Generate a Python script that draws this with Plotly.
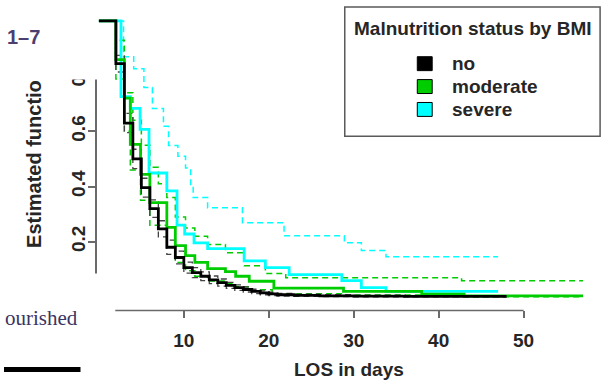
import plotly.graph_objects as go

# ---------------- data ----------------
no_t = [0, 2, 3, 4, 5, 6, 7, 8, 9, 10, 11, 12, 13, 14, 15, 16, 17, 18, 19, 20, 21, 23, 26, 30, 36, 48]
no_s = [1.0, 0.845, 0.63, 0.50, 0.396, 0.32, 0.247, 0.18, 0.143, 0.106, 0.088, 0.075, 0.062, 0.052,
        0.042, 0.034, 0.027, 0.02, 0.015, 0.011, 0.008, 0.006, 0.004, 0.003, 0.002, 0.002]
no_hi = [1.0, 0.875, 0.665, 0.535, 0.43, 0.352, 0.276, 0.206, 0.166, 0.126, 0.106, 0.091, 0.076, 0.065,
         0.053, 0.044, 0.036, 0.028, 0.022, 0.017, 0.013, 0.01, 0.008, 0.006, 0.005, 0.005]
no_lo = [1.0, 0.815, 0.595, 0.465, 0.362, 0.288, 0.218, 0.154, 0.12, 0.086, 0.07, 0.059, 0.048, 0.039,
         0.031, 0.024, 0.018, 0.012, 0.008, 0.005, 0.003, 0.002, 0.001, 0.0, 0.0, 0.0]

mod_t = [0, 2, 3, 3.7, 4.9, 6, 8, 9, 10.2, 11.3, 12.8, 14.9, 16.1, 17.7, 20.6, 28.8, 38, 43, 57]
mod_s = [1.0, 0.86, 0.72, 0.553, 0.444, 0.342, 0.252, 0.186, 0.15, 0.125, 0.103, 0.092, 0.075, 0.057,
         0.032, 0.02, 0.01, 0.004, 0.004]
mod_hi_t = [0, 2, 3, 4, 5, 6, 7, 8, 9, 10.2, 11.3, 12.8, 14.9, 17.1, 19.6, 22, 42.7, 57]
mod_hi = [1.0, 0.93, 0.74, 0.64, 0.55, 0.47, 0.41, 0.36, 0.29, 0.25, 0.22, 0.19, 0.16, 0.113, 0.085,
          0.07, 0.059, 0.059]
mod_lo_t = [0, 2, 3, 3.7, 4.9, 6, 8, 9, 10.2, 11.3, 12.8, 14.9, 16.1, 17.7, 20.4, 28.8, 38, 43, 57]
mod_lo = [1.0, 0.79, 0.6, 0.46, 0.35, 0.26, 0.18, 0.125, 0.095, 0.075, 0.058, 0.05, 0.037, 0.026,
          0.012, 0.007, 0.003, 0.001, 0.001]

sev_t = [0, 2.6, 3.7, 4.85, 5.9, 8.0, 9.2, 10.1, 11.2, 12.8, 17.1, 19.6, 22.4, 28.6, 30.9, 33.8, 47]
sev_s = [1.0, 0.726, 0.683, 0.607, 0.449, 0.384, 0.26, 0.228, 0.196, 0.175, 0.131, 0.106, 0.081,
         0.059, 0.034, 0.02, 0.02]
sev_hi_t = [0, 2.9, 4.1, 5.3, 6.3, 7.6, 8.2, 9.3, 10.2, 10.8, 11.1, 12.8, 16.9, 21.8, 28.9, 30.9, 33.8, 47]
sev_hi = [1.0, 0.87, 0.827, 0.759, 0.683, 0.618, 0.549, 0.51, 0.467, 0.40, 0.36, 0.323, 0.269, 0.222,
          0.196, 0.168, 0.146, 0.146]

x_ticks = [0, 10, 20, 30, 40, 50]
y_ticks = [0.0, 0.2, 0.4, 0.6, 0.8, 1.0]
legend_labels = ["no", "moderate", "severe"]

# ---------------- styles ----------------
W, H = 614, 383
C_NO, C_MOD, C_SEV = "#000000", "#00CD00", "#00FFFF"
FONT = "Liberation Sans, Arial, sans-serif"
TXT = "#262626"
AX = "#6a6a6a"
FW = "bold"


def X(px):
    return px / W


def Y(py):
    return 1 - py / H


fig = go.Figure()


def step(t, s, color, width, dash=None):
    fig.add_trace(go.Scatter(
        x=t, y=s, mode="lines", line=dict(color=color, width=width, shape="hv", dash=dash),
        showlegend=False, hoverinfo="skip"))


DASH = "6px,4px"
# confidence bands (dashed)
step(sev_hi_t, sev_hi, C_SEV, 1.5, DASH)
step(mod_hi_t, mod_hi, C_MOD, 1.5, DASH)
step(mod_lo_t, mod_lo, C_MOD, 1.5, DASH)
step(no_t, no_hi, "#444444", 1.3, DASH)
step(no_t, no_lo, "#444444", 1.3, DASH)
# survival estimates (solid)
step(sev_t, sev_s, C_SEV, 2.8)
step(mod_t, mod_s, C_MOD, 2.8)
step(no_t, no_s, C_NO, 2.8)

shapes = []
# R-style x axis line from first to last tick
shapes.append(dict(type="line", xref="x", yref="y domain", x0=x_ticks[0], x1=x_ticks[-1], y0=0, y1=0,
                   line=dict(color=AX, width=1.5), layer="above"))
# white panels of neighbouring figure parts (scan crop)
shapes.append(dict(type="rect", xref="paper", yref="paper", x0=0, x1=X(95), y0=Y(78), y1=1,
                   fillcolor="white", line=dict(width=0), layer="above"))
shapes.append(dict(type="rect", xref="paper", yref="paper", x0=0, x1=X(112), y0=0, y1=Y(273),
                   fillcolor="white", line=dict(width=0), layer="above"))
# black bar of neighbouring panel
shapes.append(dict(type="rect", xref="paper", yref="paper", x0=0, x1=X(77), y0=Y(372), y1=Y(367),
                   fillcolor="black", line=dict(width=0), layer="above"))
# legend box
shapes.append(dict(type="rect", xref="paper", yref="paper", x0=X(343), x1=X(600), y0=Y(135), y1=Y(5),
                   fillcolor="white", line=dict(color="#5a5a5a", width=1.5), layer="above"))

annotations = []
annotations.append(dict(text="Malnutrition status by BMI", x=X(472), y=Y(27), xref="paper", yref="paper",
                        showarrow=False, xanchor="center", yanchor="middle",
                        font=dict(family=FONT, size=19, color=TXT, weight=FW)))
for i, (lab, col) in enumerate(zip(legend_labels, [C_NO, C_MOD, C_SEV])):
    cy = 62 + i * 23
    shapes.append(dict(type="rect", xref="paper", yref="paper", x0=X(416), x1=X(431),
                       y0=Y(cy + 7), y1=Y(cy - 7), fillcolor=col, line=dict(color="#000", width=1),
                       layer="above"))
    annotations.append(dict(text=lab, x=X(449), y=Y(cy), xref="paper", yref="paper", showarrow=False,
                            xanchor="left", yanchor="middle",
                            font=dict(family=FONT, size=19, color=TXT, weight=FW)))

annotations.append(dict(text="LOS in days", x=X(347), y=Y(369), xref="paper", yref="paper",
                        showarrow=False, xanchor="center", yanchor="middle",
                        font=dict(family=FONT, size=19, color=TXT, weight=FW)))
annotations.append(dict(text="Estimated functio", x=X(30), y=Y(163), xref="paper", yref="paper",
                        showarrow=False, xanchor="center", yanchor="middle", textangle=-90,
                        font=dict(family=FONT, size=20, color=TXT, weight=FW)))
annotations.append(dict(text="ourished", x=X(77), y=Y(318), xref="paper", yref="paper",
                        showarrow=False, xanchor="right", yanchor="middle",
                        font=dict(family="Liberation Serif, serif", size=21, color="#3a3462")))
annotations.append(dict(text="1–7", x=X(1), y=Y(35), xref="paper", yref="paper",
                        showarrow=False, xanchor="left", yanchor="middle",
                        font=dict(family=FONT, size=20, color="#4a3f70", weight=FW)))

fig.update_layout(
    width=W, height=H, margin=dict(l=0, r=0, t=0, b=0),
    paper_bgcolor="white", plot_bgcolor="white",
    showlegend=False,
    xaxis=dict(range=[-0.2, 60.0], domain=[X(93.8), X(608.5)], showgrid=False, zeroline=False,
               showline=False, tickmode="array", tickvals=x_ticks, ticktext=[str(v) for v in x_ticks],
               ticks="outside", ticklen=7, tickwidth=1.5, tickcolor=AX,
               tickfont=dict(family=FONT, size=19, color=TXT, weight=FW), ticklabelstandoff=6),
    yaxis=dict(range=[-0.0486, 1.0505], domain=[Y(310), Y(5)], showgrid=False, zeroline=False,
               showline=True, linecolor=AX, linewidth=1.5, tickmode="array", tickvals=y_ticks,
               ticktext=["0.0", "0.2", "0.4", "0.6", "0.8", "1.0"], tickangle=-90,
               ticks="outside", ticklen=7, tickwidth=1.5, tickcolor=AX,
               tickfont=dict(family=FONT, size=19, color=TXT, weight=FW), ticklabelstandoff=-4),
    shapes=shapes, annotations=annotations,
)

fig.write_html("out.html")
